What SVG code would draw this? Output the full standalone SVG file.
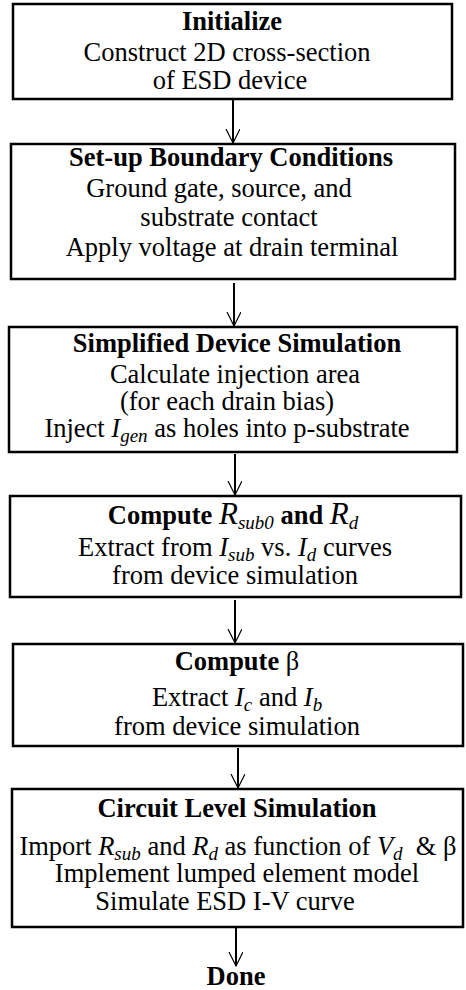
<svg xmlns="http://www.w3.org/2000/svg" width="466" height="990" viewBox="0 0 466 990">
<style>
text{font-family:"Liberation Serif","Times New Roman",serif;font-size:26.5px;fill:#000;text-anchor:middle}
.t{font-weight:bold}
.i{font-style:italic;font-weight:normal}
.s{font-style:italic;font-weight:normal;font-size:19px}
.box{fill:#fff;stroke:#000;stroke-width:2.5}
.c{stroke:#000;stroke-width:2;fill:none}
</style>
<defs>
<marker id="ah" markerWidth="16" markerHeight="16" refX="14" refY="7" orient="auto" markerUnits="userSpaceOnUse">
<path d="M0,0 L14,7 L0,14" fill="none" stroke="#000" stroke-width="1.2"/>
</marker>
</defs>
<g id="connectors">
<line class="c" x1="233" y1="100" x2="233" y2="143" marker-end="url(#ah)"/>
<line class="c" x1="234" y1="283" x2="234" y2="326" marker-end="url(#ah)"/>
<line class="c" x1="235" y1="454" x2="235" y2="495" marker-end="url(#ah)"/>
<line class="c" x1="235" y1="600" x2="235" y2="643" marker-end="url(#ah)"/>
<line class="c" x1="238" y1="748" x2="238" y2="788" marker-end="url(#ah)"/>
<line class="c" x1="236" y1="928" x2="236" y2="966" marker-end="url(#ah)"/>
</g>
<g id="initialize">
<rect class="box" x="13" y="4" width="439" height="95"/>
<text class="t" x="232" y="30">Initialize</text>
<text x="227" y="61">Construct 2D cross-section</text>
<text x="230" y="89">of ESD device</text>
</g>
<g id="boundary">
<rect class="box" x="11" y="144" width="444" height="135"/>
<text class="t" x="231" y="166">Set-up Boundary Conditions</text>
<text x="219" y="197">Ground gate, source, and</text>
<text x="229" y="226">substrate contact</text>
<text x="232" y="256">Apply voltage at drain terminal</text>
</g>
<g id="simplified">
<rect class="box" x="9" y="327" width="448" height="125"/>
<text class="t" x="237" y="352">Simplified Device Simulation</text>
<text x="235" y="383">Calculate injection area</text>
<text x="227" y="410">(for each drain bias)</text>
<text x="227" y="437">Inject <tspan class="i">I</tspan><tspan class="s" dy="5">gen</tspan><tspan dy="-5"> as holes into p-substrate</tspan></text>
</g>
<g id="compute-r">
<rect class="box" x="10" y="496" width="451" height="101"/>
<text class="t" x="233" y="524">Compute <tspan class="i" font-size="31">R</tspan><tspan class="s" font-size="21" dy="5">sub0</tspan><tspan dy="-5"> and </tspan><tspan class="i" font-size="31">R</tspan><tspan class="s" font-size="21" dy="5">d</tspan></text>
<text x="235" y="556">Extract from <tspan class="i">I</tspan><tspan class="s" dy="5">sub</tspan><tspan dy="-5"> vs. </tspan><tspan class="i">I</tspan><tspan class="s" dy="5">d</tspan><tspan dy="-5"> curves</tspan></text>
<text x="235" y="584">from device simulation</text>
</g>
<g id="compute-beta">
<rect class="box" x="13" y="644" width="450" height="102"/>
<text class="t" x="237" y="670">Compute <tspan font-weight="normal">β</tspan></text>
<text x="237" y="706">Extract <tspan class="i">I</tspan><tspan class="s" dy="5">c</tspan><tspan dy="-5"> and </tspan><tspan class="i">I</tspan><tspan class="s" dy="5">b</tspan></text>
<text x="237" y="735">from device simulation</text>
</g>
<g id="circuit">
<rect class="box" x="12" y="789" width="451" height="138"/>
<text class="t" x="237" y="817">Circuit Level Simulation</text>
<text x="238" y="855">Import <tspan class="i">R</tspan><tspan class="s" dy="5">sub</tspan><tspan dy="-5"> and </tspan><tspan class="i">R</tspan><tspan class="s" dy="5">d</tspan><tspan dy="-5"> as function of </tspan><tspan class="i">V</tspan><tspan class="s" dy="5">d</tspan><tspan dy="-5">&#160; &amp; β</tspan></text>
<text x="237" y="882">Implement lumped element model</text>
<text x="225" y="910">Simulate ESD I-V curve</text>
</g>
<g id="done">
<text class="t" x="236" y="985">Done</text>
</g>
</svg>
